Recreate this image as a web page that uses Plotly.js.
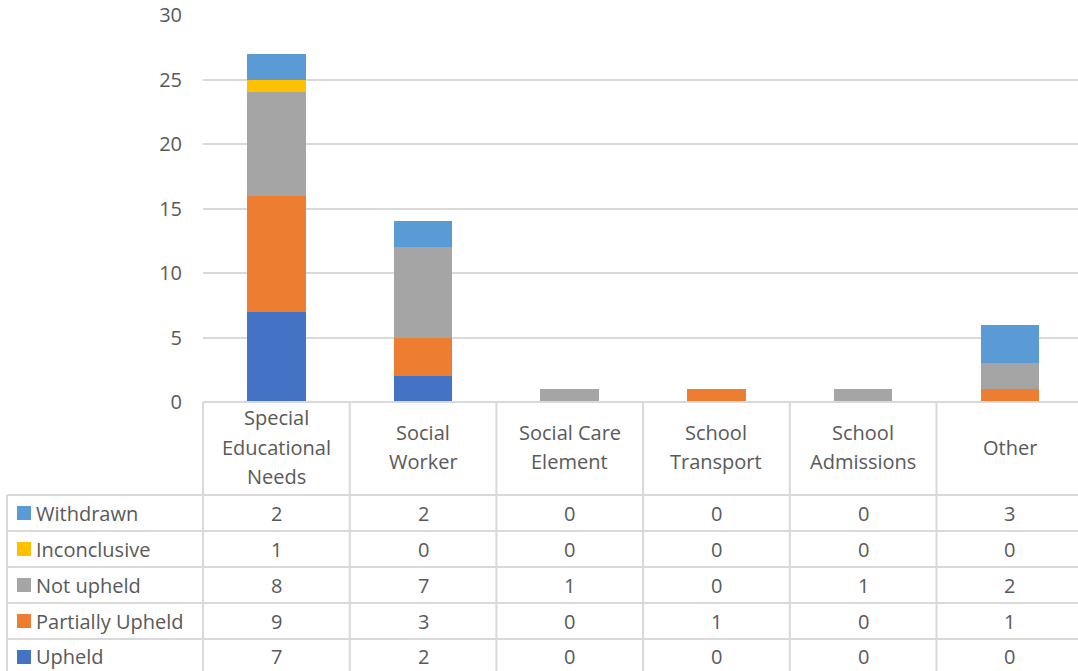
<!DOCTYPE html>
<html><head><meta charset="utf-8">
<script src="https://cdn.plot.ly/plotly-3.0.1.min.js"></script>
<style>html,body{margin:0;padding:0;background:#fff;}#chart{width:1078px;height:671px;}</style>
</head><body><div id="chart"></div>
<script>
const categories = ['Special<br>Educational<br>Needs','Social<br>Worker','Social Care<br>Element','School<br>Transport','School<br>Admissions','Other'];
const seriesNames = ['Upheld','Partially Upheld','Not upheld','Inconclusive','Withdrawn'];
const upheld = [7,2,0,0,0,0];
const partiallyUpheld = [9,3,0,1,0,1];
const notUpheld = [8,7,1,0,1,2];
const inconclusive = [1,0,0,0,0,0];
const withdrawn = [2,2,0,0,0,3];
const yTicks = [0,5,10,15,20,25,30];

const seriesValues = [upheld, partiallyUpheld, notUpheld, inconclusive, withdrawn];
const colors = ['#4472C4','#ED7D31','#A5A5A5','#FFC000','#5B9BD5'];
const txt = '#595959', grid = '#d9d9d9';
const F = 'Open Sans, sans-serif';
const FS = 20;

const W = 1078, H = 671;
const plotL = 203, plotT = 15, plotB = 402;
const catW = 146.7;
const plotW = W - plotL;
const plotH = plotB - plotT;
const py2y = p => (plotB - p)/plotH;
const pxPaper = p => (p - plotL)/plotW;
const catPaper = c => (c + 0.5)*catW/plotW;

const xs = categories.map((c,i)=>i);
const traces = seriesValues.map((vals,k)=>({
  type:'bar', x: xs, y: vals, name: seriesNames[k],
  marker:{color: colors[k], line:{width:0}}, hoverinfo:'y+name'
}));

const shapes = [], annotations = [];
const lineStyle = {color: grid, width: 2};
const rowH = 36, tableTop = 495;
const tableBottom = H + 10;
const rightEdge = 1.2;
// category header vertical lines
for (let i=0;i<=categories.length;i++){
  shapes.push({type:'line', xref:'paper', yref:'paper', x0:catPaper(i-0.5), x1:catPaper(i-0.5), y0:py2y(plotB), y1:py2y(tableBottom), line:lineStyle, layer:'above'});
}
// table left edge
shapes.push({type:'line', xref:'paper', yref:'paper', x0:pxPaper(7), x1:pxPaper(7), y0:py2y(tableTop), y1:py2y(tableBottom), line:lineStyle});
// horizontal lines
shapes.push({type:'line', xref:'paper', yref:'paper', x0:0, x1:rightEdge, y0:py2y(plotB), y1:py2y(plotB), line:lineStyle});
for (let r=0;r<=seriesNames.length;r++){
  const py = tableTop + r*rowH;
  shapes.push({type:'line', xref:'paper', yref:'paper', x0:pxPaper(7), x1:rightEdge, y0:py2y(py), y1:py2y(py), line:lineStyle});
}
// category labels
categories.forEach((c,i)=>{
  const lines = c.split('<br>');
  const n = lines.length;
  lines.forEach((ln,j)=>{
    const py = 447 + (j - (n-1)/2)*29;
    annotations.push({xref:'x', yref:'paper', x:i, y:py2y(py), text:ln, showarrow:false,
      xanchor:'center', yanchor:'middle', font:{family:F, size:FS, color:txt}});
  });
});
// table rows: top row is last series
const rowOrder = [4,3,2,1,0];
rowOrder.forEach((k,r)=>{
  const cy = tableTop + r*rowH + rowH/2;
  shapes.push({type:'rect', xref:'paper', yref:'paper', x0:pxPaper(17), x1:pxPaper(31), y0:py2y(cy-7), y1:py2y(cy+7),
    fillcolor: colors[k], line:{width:0}});
  annotations.push({xref:'paper', yref:'paper', x:pxPaper(34), y:py2y(cy), text:seriesNames[k], showarrow:false,
    xanchor:'left', yanchor:'middle', font:{family:F, size:FS, color:txt}});
  seriesValues[k].forEach((v,i)=>{
    annotations.push({xref:'x', yref:'paper', x:i, y:py2y(cy), text:String(v), showarrow:false,
      xanchor:'center', yanchor:'middle', font:{family:F, size:FS, color:txt}});
  });
});

const layout = {
  width: W, height: H,
  margin:{l:plotL, r:0, t:plotT, b:H-plotB, pad:0},
  paper_bgcolor:'#fff', plot_bgcolor:'#fff',
  barmode:'stack', bargap:0.6, showlegend:false,
  xaxis:{type:'linear', range:[-0.5, -0.5 + plotW/catW], showticklabels:false, showgrid:false, zeroline:false, showline:false, ticks:'', fixedrange:true},
  yaxis:{range:[0,30], tickvals:yTicks, ticktext:yTicks.map(String), showgrid:true, gridcolor:grid, gridwidth:2,
    zeroline:false, showline:false, ticks:'', ticklabelstandoff:20,
    tickfont:{family:F, size:FS, color:txt}, fixedrange:true},
  shapes: shapes, annotations: annotations,
  font:{family:F, color:txt}
};
Plotly.newPlot('chart', traces, layout, {displayModeBar:false, staticPlot:true});
</script></body></html>
